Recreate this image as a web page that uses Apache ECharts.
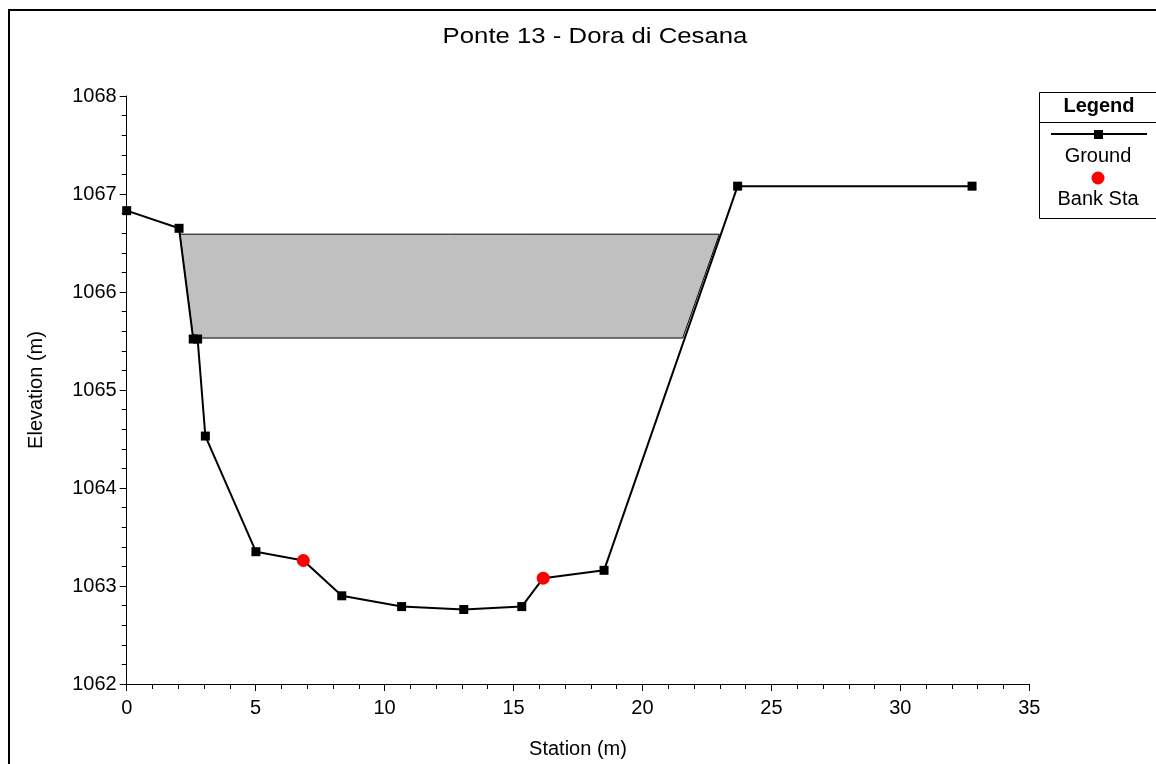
<!DOCTYPE html>
<html>
<head>
<meta charset="utf-8">
<script src="https://cdn.jsdelivr.net/npm/echarts@6/dist/echarts.min.js"></script>
<style>html,body{margin:0;padding:0;background:#fff;}#c{width:1156px;height:764px;}</style>
</head>
<body>
<div id="c"></div>
<script>
// Ground profile (includes bank stations)
var groundStation = [0, 2.03, 2.58, 2.75, 3.05, 5.01, 6.85, 8.34, 10.66, 13.07, 15.32, 16.15, 18.51, 23.69, 32.78];
var groundElev    = [1066.83, 1066.65, 1065.52, 1065.52, 1064.53, 1063.35, 1063.26, 1062.90, 1062.79, 1062.76, 1062.79, 1063.08, 1063.16, 1067.08, 1067.08];
// Bank stations
var bankStation = [6.85, 16.15];
var bankElev    = [1063.26, 1063.08];
// Bridge deck polygon
var deckStation = [2.06, 22.98, 21.56, 2.58];
var deckElev    = [1066.59, 1066.59, 1065.53, 1065.53];

var title = 'Ponte 13 - Dora di Cesana';
var xName = 'Station (m)';
var yName = 'Elevation (m)';
var FONT = 'Liberation Sans, Arial, sans-serif';

var chart = echarts.init(document.getElementById('c'), null, {renderer: 'canvas'});

var groundData = groundStation.map(function (x, i) {
  var isBank = bankStation.indexOf(x) >= 0;
  return isBank ? {value: [x, groundElev[i]], symbol: 'none'} : [x, groundElev[i]];
});
var bankData = bankStation.map(function (x, i) { return [x, bankElev[i]]; });

var option = {
  backgroundColor: '#fff',
  animation: false,
  grid: {left: 126.7, right: 126.7, top: 96, bottom: 79.7, containLabel: false},
  xAxis: {
    type: 'value', min: 0, max: 35, interval: 5,
    name: xName, nameLocation: 'middle', nameGap: 55,
    nameTextStyle: {fontFamily: FONT, fontSize: 20, color: '#000'},
    axisLine: {show: true, onZero: false, lineStyle: {color: '#000', width: 1}},
    axisTick: {show: true, inside: false, length: 7, lineStyle: {color: '#000'}},
    minorTick: {show: true, splitNumber: 5, length: 5, lineStyle: {color: '#000'}},
    axisLabel: {fontFamily: FONT, fontSize: 20, color: '#000', margin: 14, formatter: function (v) { return String(v); }},
    splitLine: {show: false}
  },
  yAxis: {
    type: 'value', min: 1062, max: 1068, interval: 1,
    name: yName, nameLocation: 'middle', nameGap: 80, nameRotate: 90,
    nameTextStyle: {fontFamily: FONT, fontSize: 20, color: '#000'},
    axisLine: {show: true, onZero: false, lineStyle: {color: '#000', width: 1}},
    axisTick: {show: true, inside: false, length: 7, lineStyle: {color: '#000'}},
    minorTick: {show: true, splitNumber: 5, length: 5, lineStyle: {color: '#000'}},
    axisLabel: {fontFamily: FONT, fontSize: 20, color: '#000', margin: 10, formatter: function (v) { return String(v); }},
    splitLine: {show: false}
  },
  series: [
    {
      name: 'Deck', type: 'custom', z: 1, silent: true,
      data: [[deckStation[0], deckElev[0]]],
      renderItem: function (params, api) {
        var pts = deckStation.map(function (x, i) { return api.coord([x, deckElev[i]]); });
        return {
          type: 'polygon',
          shape: {points: pts},
          style: {fill: '#c0c0c0', stroke: '#000', lineWidth: 1}
        };
      }
    },
    {
      name: 'Ground', type: 'line', z: 3, data: groundData,
      symbol: 'rect', symbolSize: 9, showAllSymbol: true,
      lineStyle: {color: '#000', width: 2},
      itemStyle: {color: '#000'}
    },
    {
      name: 'Bank Sta', type: 'scatter', z: 4, data: bankData,
      symbol: 'circle', symbolSize: 13,
      itemStyle: {color: '#ff0000', opacity: 1}
    }
  ],
  graphic: [
    {type: 'rect', shape: {x: 9, y: 10, width: 1200, height: 800}, style: {fill: 'none', stroke: '#000', lineWidth: 2}, silent: true},
    {type: 'text', x: 595, y: 37, scaleX: 1.17, style: {text: title, font: '22px ' + FONT, fill: '#000', align: 'center', verticalAlign: 'middle'}},
    {type: 'rect', shape: {x: 1039.5, y: 92.5, width: 130, height: 126}, style: {fill: '#fff', stroke: '#000', lineWidth: 1}, silent: true},
    {type: 'line', shape: {x1: 1039.5, y1: 122.5, x2: 1160, y2: 122.5}, style: {stroke: '#000', lineWidth: 1}},
    {type: 'text', x: 1099, y: 106, style: {text: 'Legend', font: 'bold 20px ' + FONT, fill: '#000', align: 'center', verticalAlign: 'middle'}},
    {type: 'line', shape: {x1: 1051, y1: 134, x2: 1147, y2: 134}, style: {stroke: '#000', lineWidth: 2}},
    {type: 'rect', shape: {x: 1094, y: 130, width: 9, height: 9}, style: {fill: '#000'}},
    {type: 'text', x: 1098, y: 156, style: {text: 'Ground', font: '20px ' + FONT, fill: '#000', align: 'center', verticalAlign: 'middle'}},
    {type: 'circle', shape: {cx: 1098, cy: 178, r: 6.5}, style: {fill: '#ff0000'}},
    {type: 'text', x: 1098, y: 199, style: {text: 'Bank Sta', font: '20px ' + FONT, fill: '#000', align: 'center', verticalAlign: 'middle'}}
  ]
};
chart.setOption(option);
</script>
</body>
</html>
